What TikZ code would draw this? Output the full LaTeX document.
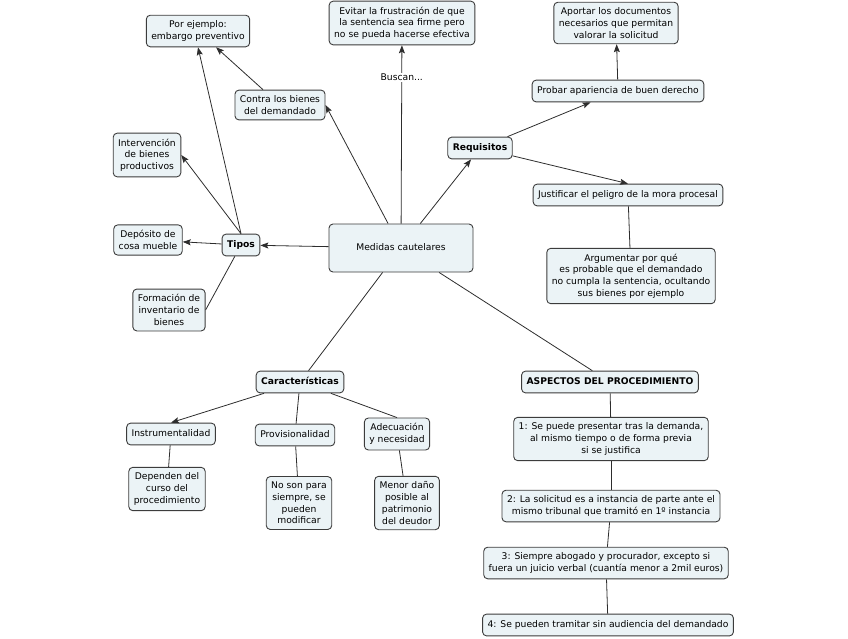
\documentclass[tikz,border=0pt]{standalone}
\usepackage{fontspec}
\setmainfont{DejaVu Sans}
\usetikzlibrary{arrows.meta}
\definecolor{cajafondo}{RGB}{235,243,246}
\definecolor{cajaborde}{RGB}{60,60,60}
\definecolor{linea}{RGB}{45,45,45}
\begin{document}
\begin{tikzpicture}[x=1pt,y=-1pt,
		concepto/.style={draw=cajaborde, fill=cajafondo, rounded corners=4pt, line width=0.9pt, align=center,
			inner xsep=5pt, inner ysep=5.5pt, font=\fontsize{9.2}{11.7}\selectfont},
		unalinea/.style={text height=7pt, text depth=2.2pt, inner ysep=6.3pt},
		clave/.style={concepto, unalinea, font=\fontsize{9.2}{11.7}\selectfont\bfseries},
		enlace/.style={draw=linea, line width=0.8pt},
		>={Stealth[length=8pt,width=6pt,inset=1.5pt]}]
		\useasboundingbox (0,0) rectangle (848,638); % Fix the page size

		% Centre of the map
		\node[concepto, unalinea, minimum width=144, minimum height=48] (medidas) at (401,248) {Medidas cautelares};

		% Upper left branch
		\node[concepto] (ejemplo) at (198,31) {Por ejemplo:\\embargo preventivo};
		\node[concepto] (contra) at (280,105) {Contra los bienes\\del demandado};
		\node[concepto] (evitar) at (402,23) {Evitar la frustración de que\\la sentencia sea firme pero\\no se pueda hacerse efectiva};

		% Tipos
		\node[clave] (tipos) at (241,245) {Tipos};
		\node[concepto] (interv) at (147,155) {Intervención\\de bienes\\productivos};
		\node[concepto] (deposito) at (148,240) {Depósito de\\cosa mueble};
		\node[concepto] (formacion) at (169,310) {Formación de\\inventario de\\bienes};

		% Requisitos
		\node[clave] (requisitos) at (480,148) {Requisitos};
		\node[concepto, unalinea] (probar) at (618,91) {Probar apariencia de buen derecho};
		\node[concepto] (aportar) at (616,23) {Aportar los documentos\\necesarios que permitan\\valorar la solicitud};
		\node[concepto, unalinea] (justificar) at (628,195) {Justificar el peligro de la mora procesal};
		\node[concepto] (argumentar) at (631,276) {Argumentar por qué\\es probable que el demandado\\no cumpla la sentencia, ocultando\\sus bienes por ejemplo};

		% Caracteristicas
		\node[clave] (caract) at (300,382) {Características};
		\node[concepto, unalinea] (instr) at (171,434) {Instrumentalidad};
		\node[concepto, unalinea] (provis) at (295,435) {Provisionalidad};
		\node[concepto] (adecuacion) at (397,434) {Adecuación\\y necesidad};
		\node[concepto] (dependen) at (167,489) {Dependen del\\curso del\\procedimiento};
		\node[concepto] (noson) at (299,503) {No son para\\siempre, se\\pueden\\modificar};
		\node[concepto] (menor) at (407,503) {Menor daño\\posible al\\patrimonio\\del deudor};

		% Aspectos del procedimiento
		\node[clave] (aspectos) at (610,382) {ASPECTOS DEL PROCEDIMIENTO};
		\node[concepto] (paso1) at (611,439) {1: Se puede presentar tras la demanda,\\al mismo tiempo o de forma previa\\si se justifica};
		\node[concepto] (paso2) at (611,506) {2: La solicitud es a instancia de parte ante el\\mismo tribunal que tramitó en 1º instancia};
		\node[concepto] (paso3) at (606,563) {3: Siempre abogado y procurador, excepto si\\fuera un juicio verbal (cuantía menor a 2mil euros)};
		\node[concepto, unalinea] (paso4) at (608,625) {4: Se pueden tramitar sin audiencia del demandado};

		% Connectors
		\draw[enlace,->] (medidas) -- (contra.east); % Medidas to Contra
		\draw[enlace,->] (contra) -- (ejemplo); % Contra to Por ejemplo
		\draw[enlace,->] (medidas) -- (evitar) node[pos=0.82, fill=white, inner sep=1pt, font=\fontsize{9.2}{11.7}\selectfont]{Buscan...}; % Buscan
		\draw[enlace,->] (medidas) -- (tipos); % Medidas to Tipos
		\draw[enlace,->] (tipos.north) -- (ejemplo.south); % Tipos to Por ejemplo
		\draw[enlace,->] (tipos.north) -- (interv.east); % Tipos to Intervencion
		\draw[enlace,->] (tipos) -- (deposito); % Tipos to Deposito
		\draw[enlace] (tipos) -- (formacion.east); % Tipos to Formacion
		\draw[enlace,->] (medidas) -- (requisitos); % Medidas to Requisitos
		\draw[enlace,->] (requisitos) -- (probar); % Requisitos to Probar
		\draw[enlace,->] (probar) -- (aportar); % Probar to Aportar
		\draw[enlace,->] (requisitos) -- (justificar.north); % Requisitos to Justificar
		\draw[enlace] (justificar) -- (argumentar); % Justificar to Argumentar
		\draw[enlace] (medidas) -- (caract); % Medidas to Caracteristicas
		\draw[enlace] (medidas) -- (aspectos); % Medidas to Aspectos
		\draw[enlace,->] (caract) -- (instr.north); % Caracteristicas to Instrumentalidad
		\draw[enlace] (caract) -- (provis); % Caracteristicas to Provisionalidad
		\draw[enlace] (caract) -- (adecuacion.north); % Caracteristicas to Adecuacion
		\draw[enlace] (instr) -- (dependen);
		\draw[enlace] (provis) -- (noson);
		\draw[enlace] (adecuacion) -- (menor);
		\draw[enlace] (aspectos) -- (paso1);
		\draw[enlace] (paso1) -- (paso2);
		\draw[enlace] (paso2) -- (paso3);
		\draw[enlace] (paso3) -- (paso4);
	\end{tikzpicture}
\end{document}
